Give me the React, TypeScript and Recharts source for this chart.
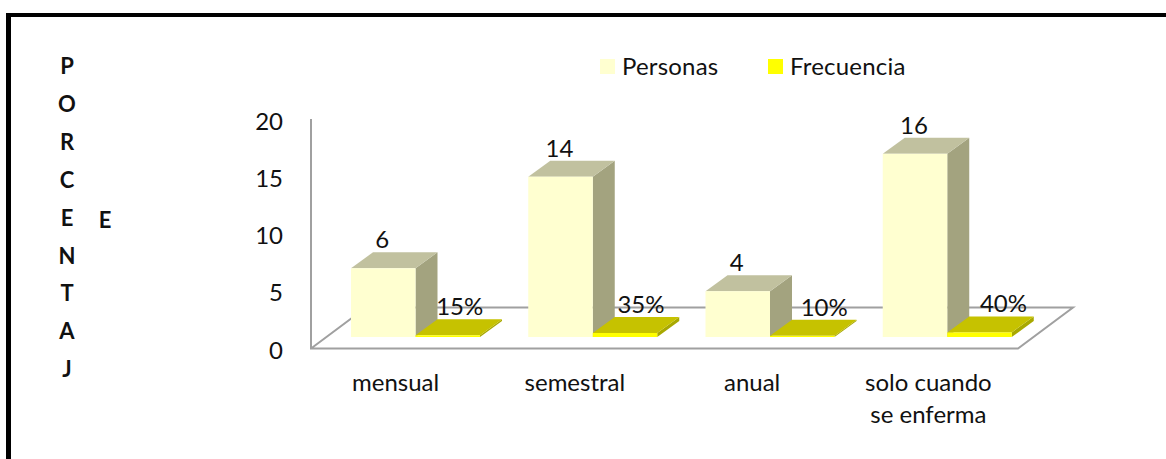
import React from "react";
import { BarChart, Bar, XAxis, YAxis, Legend, LabelList } from "recharts";

const categories = ["mensual", "semestral", "anual", "solo cuando se enferma"];
const personas = [6, 14, 4, 16];
const frecuencia = [0.15, 0.35, 0.1, 0.4];
const yTicks = [0, 5, 10, 15, 20];
const axisLetters = ["P", "O", "R", "C", "E", "N", "T", "A", "J"];

const data = categories.map((name, i) => ({ name, personas: personas[i], frecuencia: frecuencia[i] }));

const FONT = "Lato, sans-serif";
const GREY = "#a0a0a0";
// how far the bars sit back on the floor
const SHIFT_X = 16;
const SHIFT_Y = -11;
const DEPTH_X = 22;
const DEPTH_Y = -16;
// the % labels were moved by hand in the original
const freqLabelDx = [12, 16, 22, 24];
const tickDx = [-4, -2, -2, -3];

const pts = (p: number[][]) => p.map((q) => q.join(",")).join(" ");

const make3dBar = (front: string, top: string, side: string) => (props: any) => {
	const x = props.x + SHIFT_X;
	const y = props.y + SHIFT_Y;
	const w = props.width;
	const h = props.height;
	return (
		<g>
			<polygon fill={side} points={pts([[x + w, y], [x + w + DEPTH_X, y + DEPTH_Y], [x + w + DEPTH_X, y + h + DEPTH_Y], [x + w, y + h]])} />
			<polygon fill={top} points={pts([[x, y], [x + DEPTH_X, y + DEPTH_Y], [x + w + DEPTH_X, y + DEPTH_Y], [x + w, y]])} />
			<rect x={x} y={y} width={w} height={h} fill={front} />
		</g>
	);
};

const PersonasBar = make3dBar("#ffffd0", "#c1c19f", "#a3a37f");
const FrecuenciaBar = make3dBar("#ffff00", "#c6c200", "#a8a800");

const textStyle = { fontFamily: FONT, fontSize: 24, fill: "#111" };
const letterStyle = { fontFamily: FONT, fontSize: 22, fontWeight: 700, fill: "#111" };

const barLabel = (format: (v: number) => string, dxs: number[] | null) => (props: any) => {
	const { x, y, width, value, index } = props;
	const dx = dxs ? dxs[index] : -1;
	return (
		<text x={x + SHIFT_X + width / 2 + dx} y={y + SHIFT_Y - 20} textAnchor="middle" style={textStyle}>
			{format(value)}
		</text>
	);
};

const CategoryTick = (props: any) => {
	const { x, payload, index } = props;
	const label: string = payload.value;
	const lines = label.length > 12 ? ["solo cuando", "se enferma"] : [label];
	return (
		<text textAnchor="middle" style={textStyle}>
			{lines.map((l, i) => (
				<tspan key={i} x={x + tickDx[index]} y={391 + i * 32}>{l}</tspan>
			))}
		</text>
	);
};

const LegendContent = (props: any) => {
	const lefts = [600, 768];
	return (
		<div>
			{props.payload.map((item: any, i: number) => (
				<div key={item.value} style={{ position: "absolute", left: lefts[i], top: 50, display: "flex", alignItems: "center", height: 30 }}>
					<span style={{ width: 15, height: 15, background: item.color, marginRight: 7, marginTop: 3 }} />
					<span style={{ fontFamily: FONT, fontSize: 24, color: "#111", letterSpacing: 0.2 }}>{item.value}</span>
				</div>
			))}
		</div>
	);
};

export default function App() {
	return (
		<div style={{ position: "absolute", left: 0, top: 0, width: 1166, height: 459, overflow: "hidden", background: "#fff" }}>
			<div style={{ position: "absolute", left: 6, top: 13, width: 1170, height: 460, borderTop: "4px solid #000", borderLeft: "5px solid #000" }} />
			<BarChart
				width={1166}
				height={459}
				data={data}
				barGap={0}
				barSize={64.5}
				margin={{ top: 119, right: 146, bottom: 0, left: 0 }}
				style={{ position: "absolute", left: 0, top: 0 }}
			>
				<polyline points="311,119 311,348.5 1018,348.5 1073,307.5 366,307.5 311,348.5" fill="none" stroke={GREY} strokeWidth={2} />
				{axisLetters.map((l, i) => (
					<text key={i} x={67} y={74 + i * 37.9} textAnchor="middle" style={letterStyle}>{l}</text>
				))}
				<text x={105} y={228} textAnchor="middle" style={letterStyle}>E</text>
				<XAxis dataKey="name" height={111} axisLine={false} tickLine={false} tick={<CategoryTick />} interval={0} />
				<YAxis width={311} domain={[0, 20]} ticks={yTicks} axisLine={false} tickLine={false} tickMargin={22} tick={{ ...textStyle, dy: 2 }} />
				<Legend content={<LegendContent />} verticalAlign="top" itemSorter={null} wrapperStyle={{ left: 0, top: 0, width: 1166 }} />
				<Bar dataKey="personas" name="Personas" fill="#ffffd0" shape={PersonasBar} isAnimationActive={false}>
					<LabelList dataKey="personas" content={barLabel((v) => String(v), null)} />
				</Bar>
				<Bar dataKey="frecuencia" name="Frecuencia" fill="#ffff00" shape={FrecuenciaBar} isAnimationActive={false}>
					<LabelList dataKey="frecuencia" content={barLabel((v) => `${Math.round(v * 100)}%`, freqLabelDx)} />
				</Bar>
			</BarChart>
		</div>
	);
}
